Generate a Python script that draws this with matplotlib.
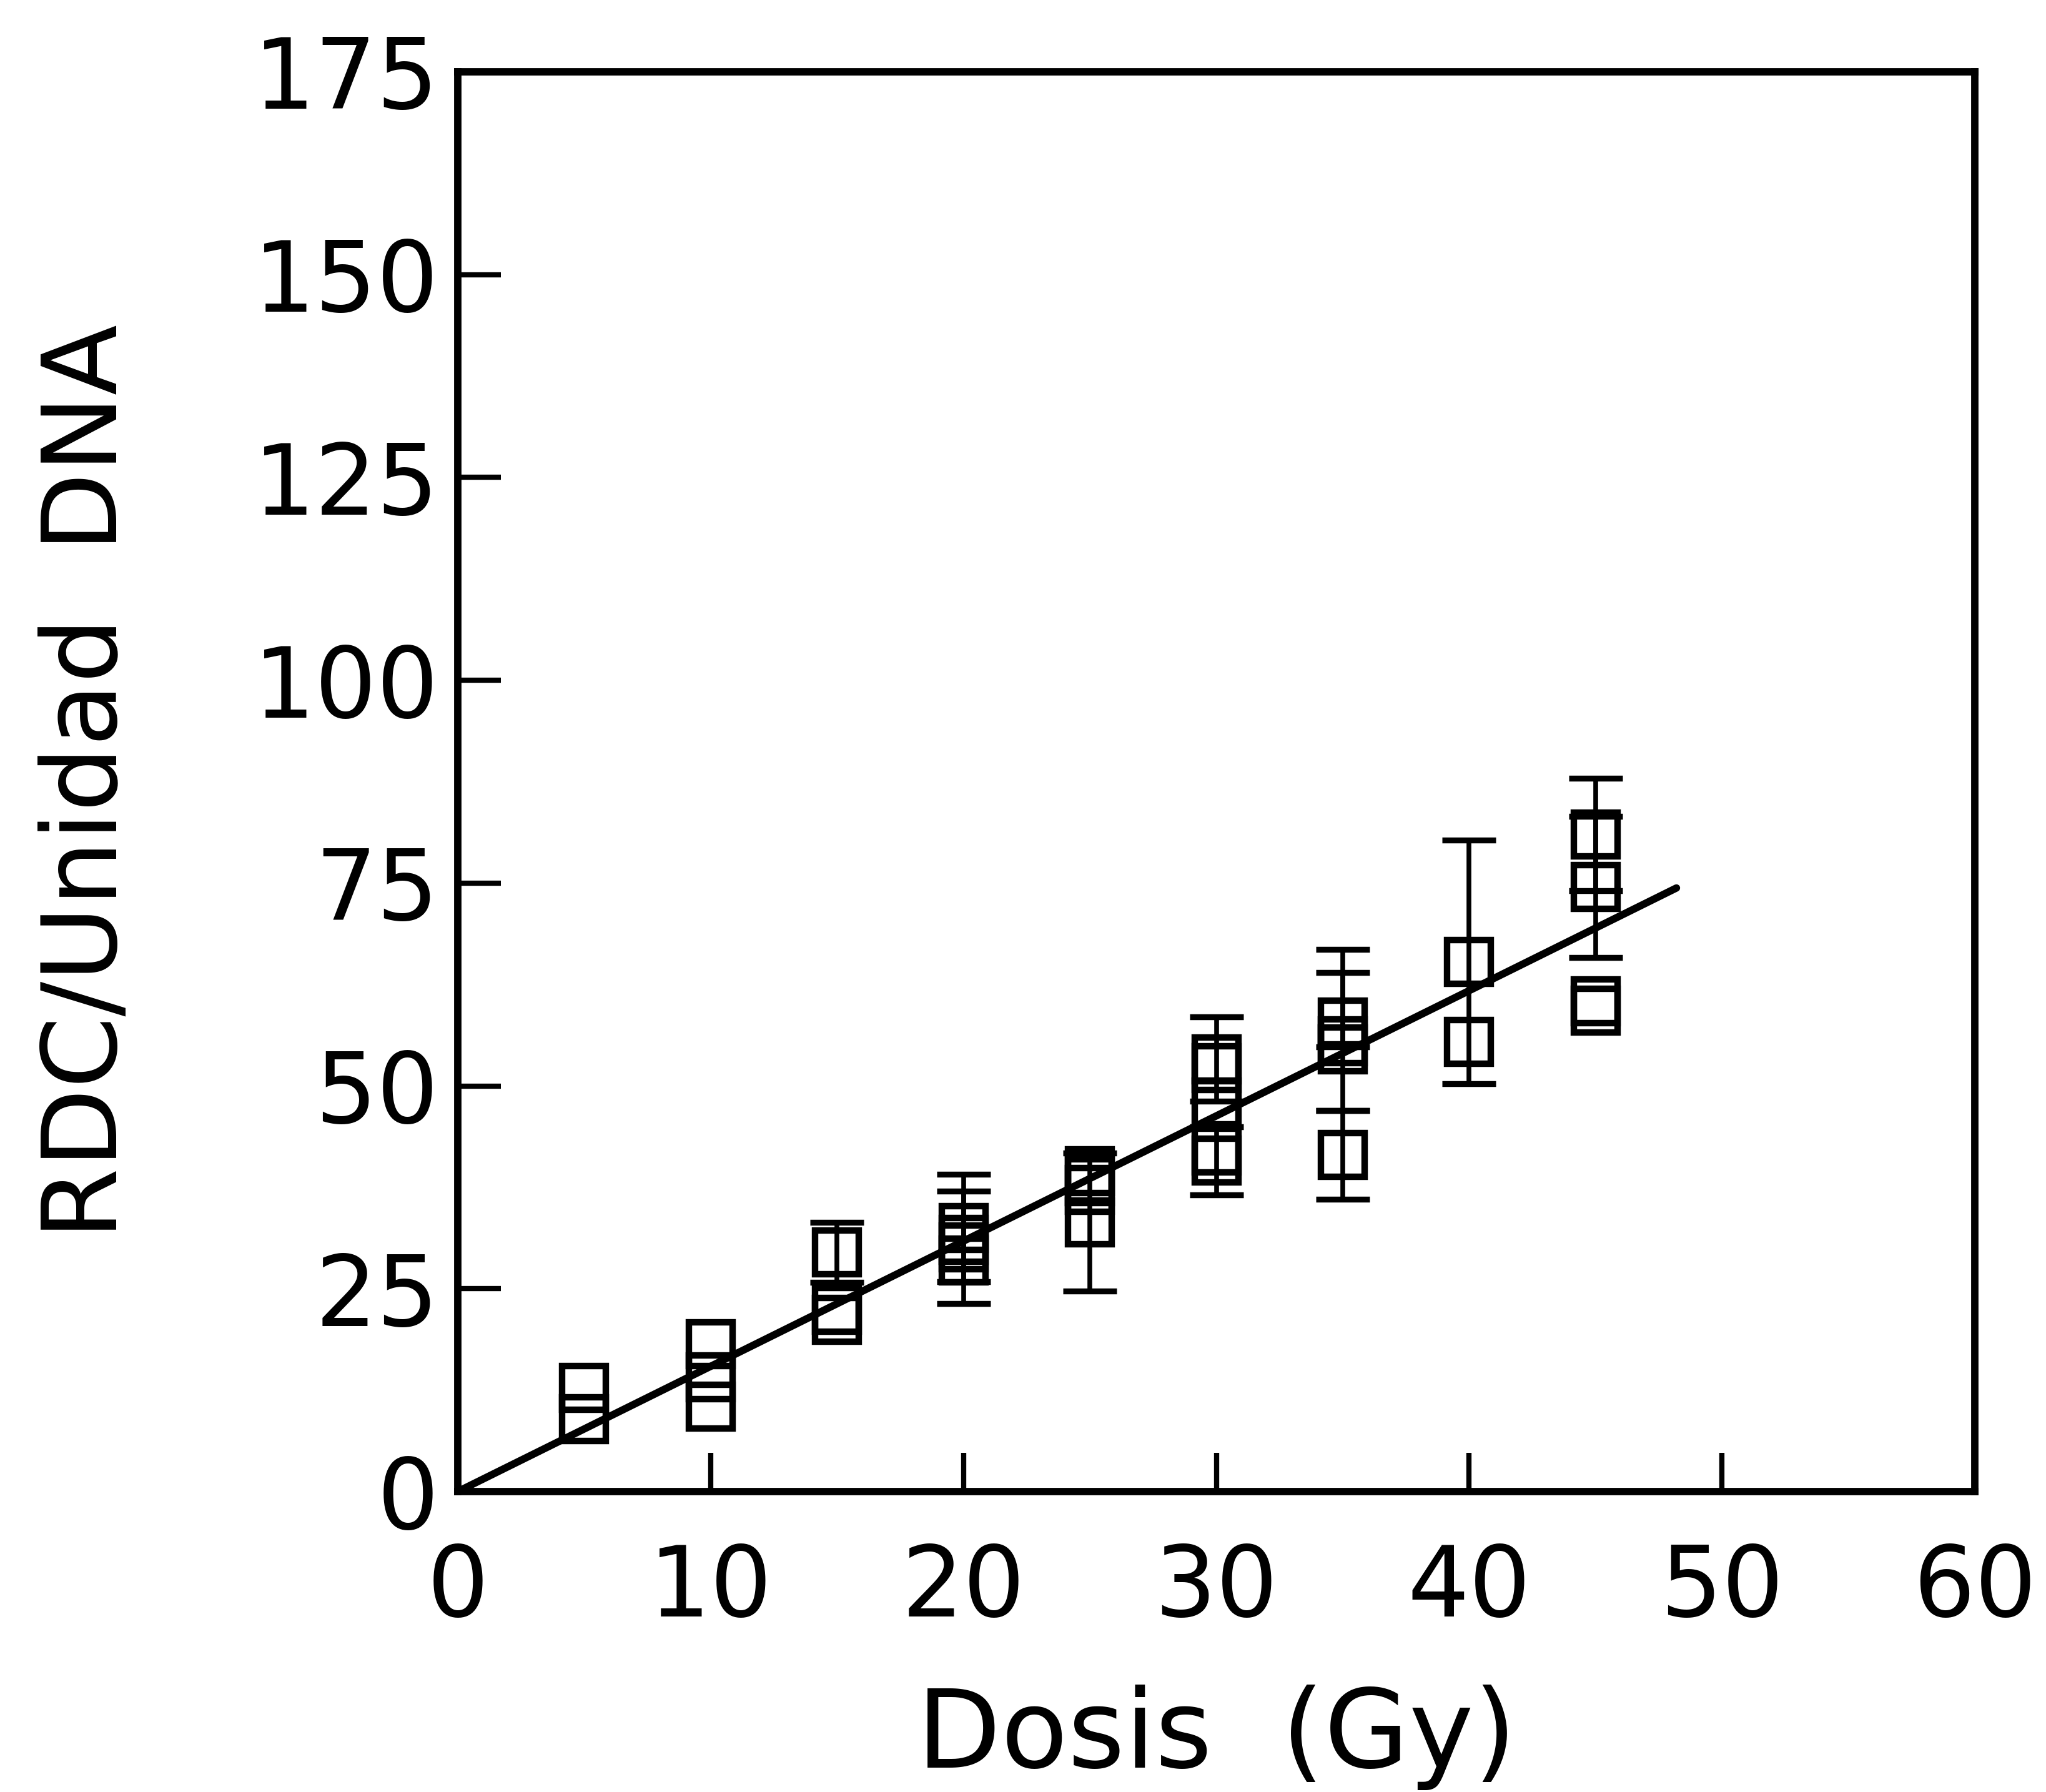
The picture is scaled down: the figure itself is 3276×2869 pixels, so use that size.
import matplotlib
matplotlib.use("Agg")
import matplotlib.pyplot as plt
import numpy as np

plt.rcParams['font.family'] = ['DejaVu Sans']

# --- data ---
dose = [5, 5,
        10, 10, 10,
        15, 15, 15,
        20, 20, 20, 20,
        25, 25, 25, 25,
        30, 30, 30, 30, 30,
        35, 35, 35, 35,
        40, 40,
        45, 45, 45, 45]
rdc = [12.8, 8.9,
       18.2, 14.1, 10.5,
       29.5, 22.4, 21.2,
       32.5, 31.0, 30.1, 28.5,
       39.5, 38.3, 37.2, 33.2,
       53.3, 52.2, 48.0, 42.0, 40.8,
       57.8, 55.5, 54.5, 41.5,
       65.3, 55.4,
       81.0, 74.5, 60.4, 59.3]
err_low = [0, 0,
           0, 0, 0,
           3.7, 0, 0,
           6.6, 0, 6.9, 0,
           0, 0, 0, 8.5,
           5.2, 0, 0, 0, 4.2,
           3.0, 8.5, 0, 5.5,
           15.0, 0,
           6.9, 8.7, 0, 0]
err_high = [0, 0,
            0, 0, 0,
            3.7, 0, 0,
            6.6, 0, 6.9, 0,
            0, 0, 0, 8.5,
            5.2, 0, 0, 0, 4.2,
            9.0, 8.5, 0, 5.5,
            15.0, 0,
            6.9, 8.7, 0, 0]
fit_x = [0, 48.2]
fit_y = [0, 74.4]

x_ticks = [0, 10, 20, 30, 40, 50, 60]
y_ticks = [0, 25, 50, 75, 100, 125, 150, 175]
x_label = "Dosis  (Gy)"
y_label = "RDC/Unidad  DNA"

W, H = 3276, 2869
fig = plt.figure(figsize=(W / 100, H / 100), dpi=100, facecolor='white')
ax = fig.add_axes([733 / W, 1 - 2388 / H, (3162 - 733) / W, (2388 - 115) / H])

dose_a = np.array(dose, float)
rdc_a = np.array(rdc, float)
lo = np.array(err_low, float)
hi = np.array(err_high, float)
m = (lo > 0) | (hi > 0)

ax.errorbar(dose_a[m], rdc_a[m], yerr=[lo[m], hi[m]], fmt='none',
            ecolor='black', elinewidth=5.5, capsize=31, capthick=6.8, zorder=2)
ax.plot(dose_a, rdc_a, linestyle='none', marker='s', markersize=50,
        markerfacecolor='none', markeredgecolor='black', markeredgewidth=7.5,
        zorder=3)
ax.plot(fit_x, fit_y, color='black', linewidth=8.5, solid_capstyle='round', zorder=4)

ax.set_xlim(0, 60)
ax.set_ylim(0, 175)
ax.set_xticks(x_ticks)
ax.set_yticks(y_ticks)
ax.set_xticklabels([str(v) for v in x_ticks])
ax.set_yticklabels([str(v) for v in y_ticks])

for sp in ax.spines.values():
    sp.set_linewidth(8.5)
    sp.set_color('black')
    sp.set_capstyle('projecting')

ax.tick_params(axis='x', direction='in', length=45, width=6, pad=58,
               labelsize=112, top=False)
ax.tick_params(axis='y', direction='in', length=50, width=6, pad=22,
               labelsize=112, right=False)

ax.set_xlabel(x_label, fontsize=126, labelpad=55)
ax.set_ylabel(y_label, fontsize=119, labelpad=132)

fig.savefig("out.png", dpi=100, facecolor='white')
